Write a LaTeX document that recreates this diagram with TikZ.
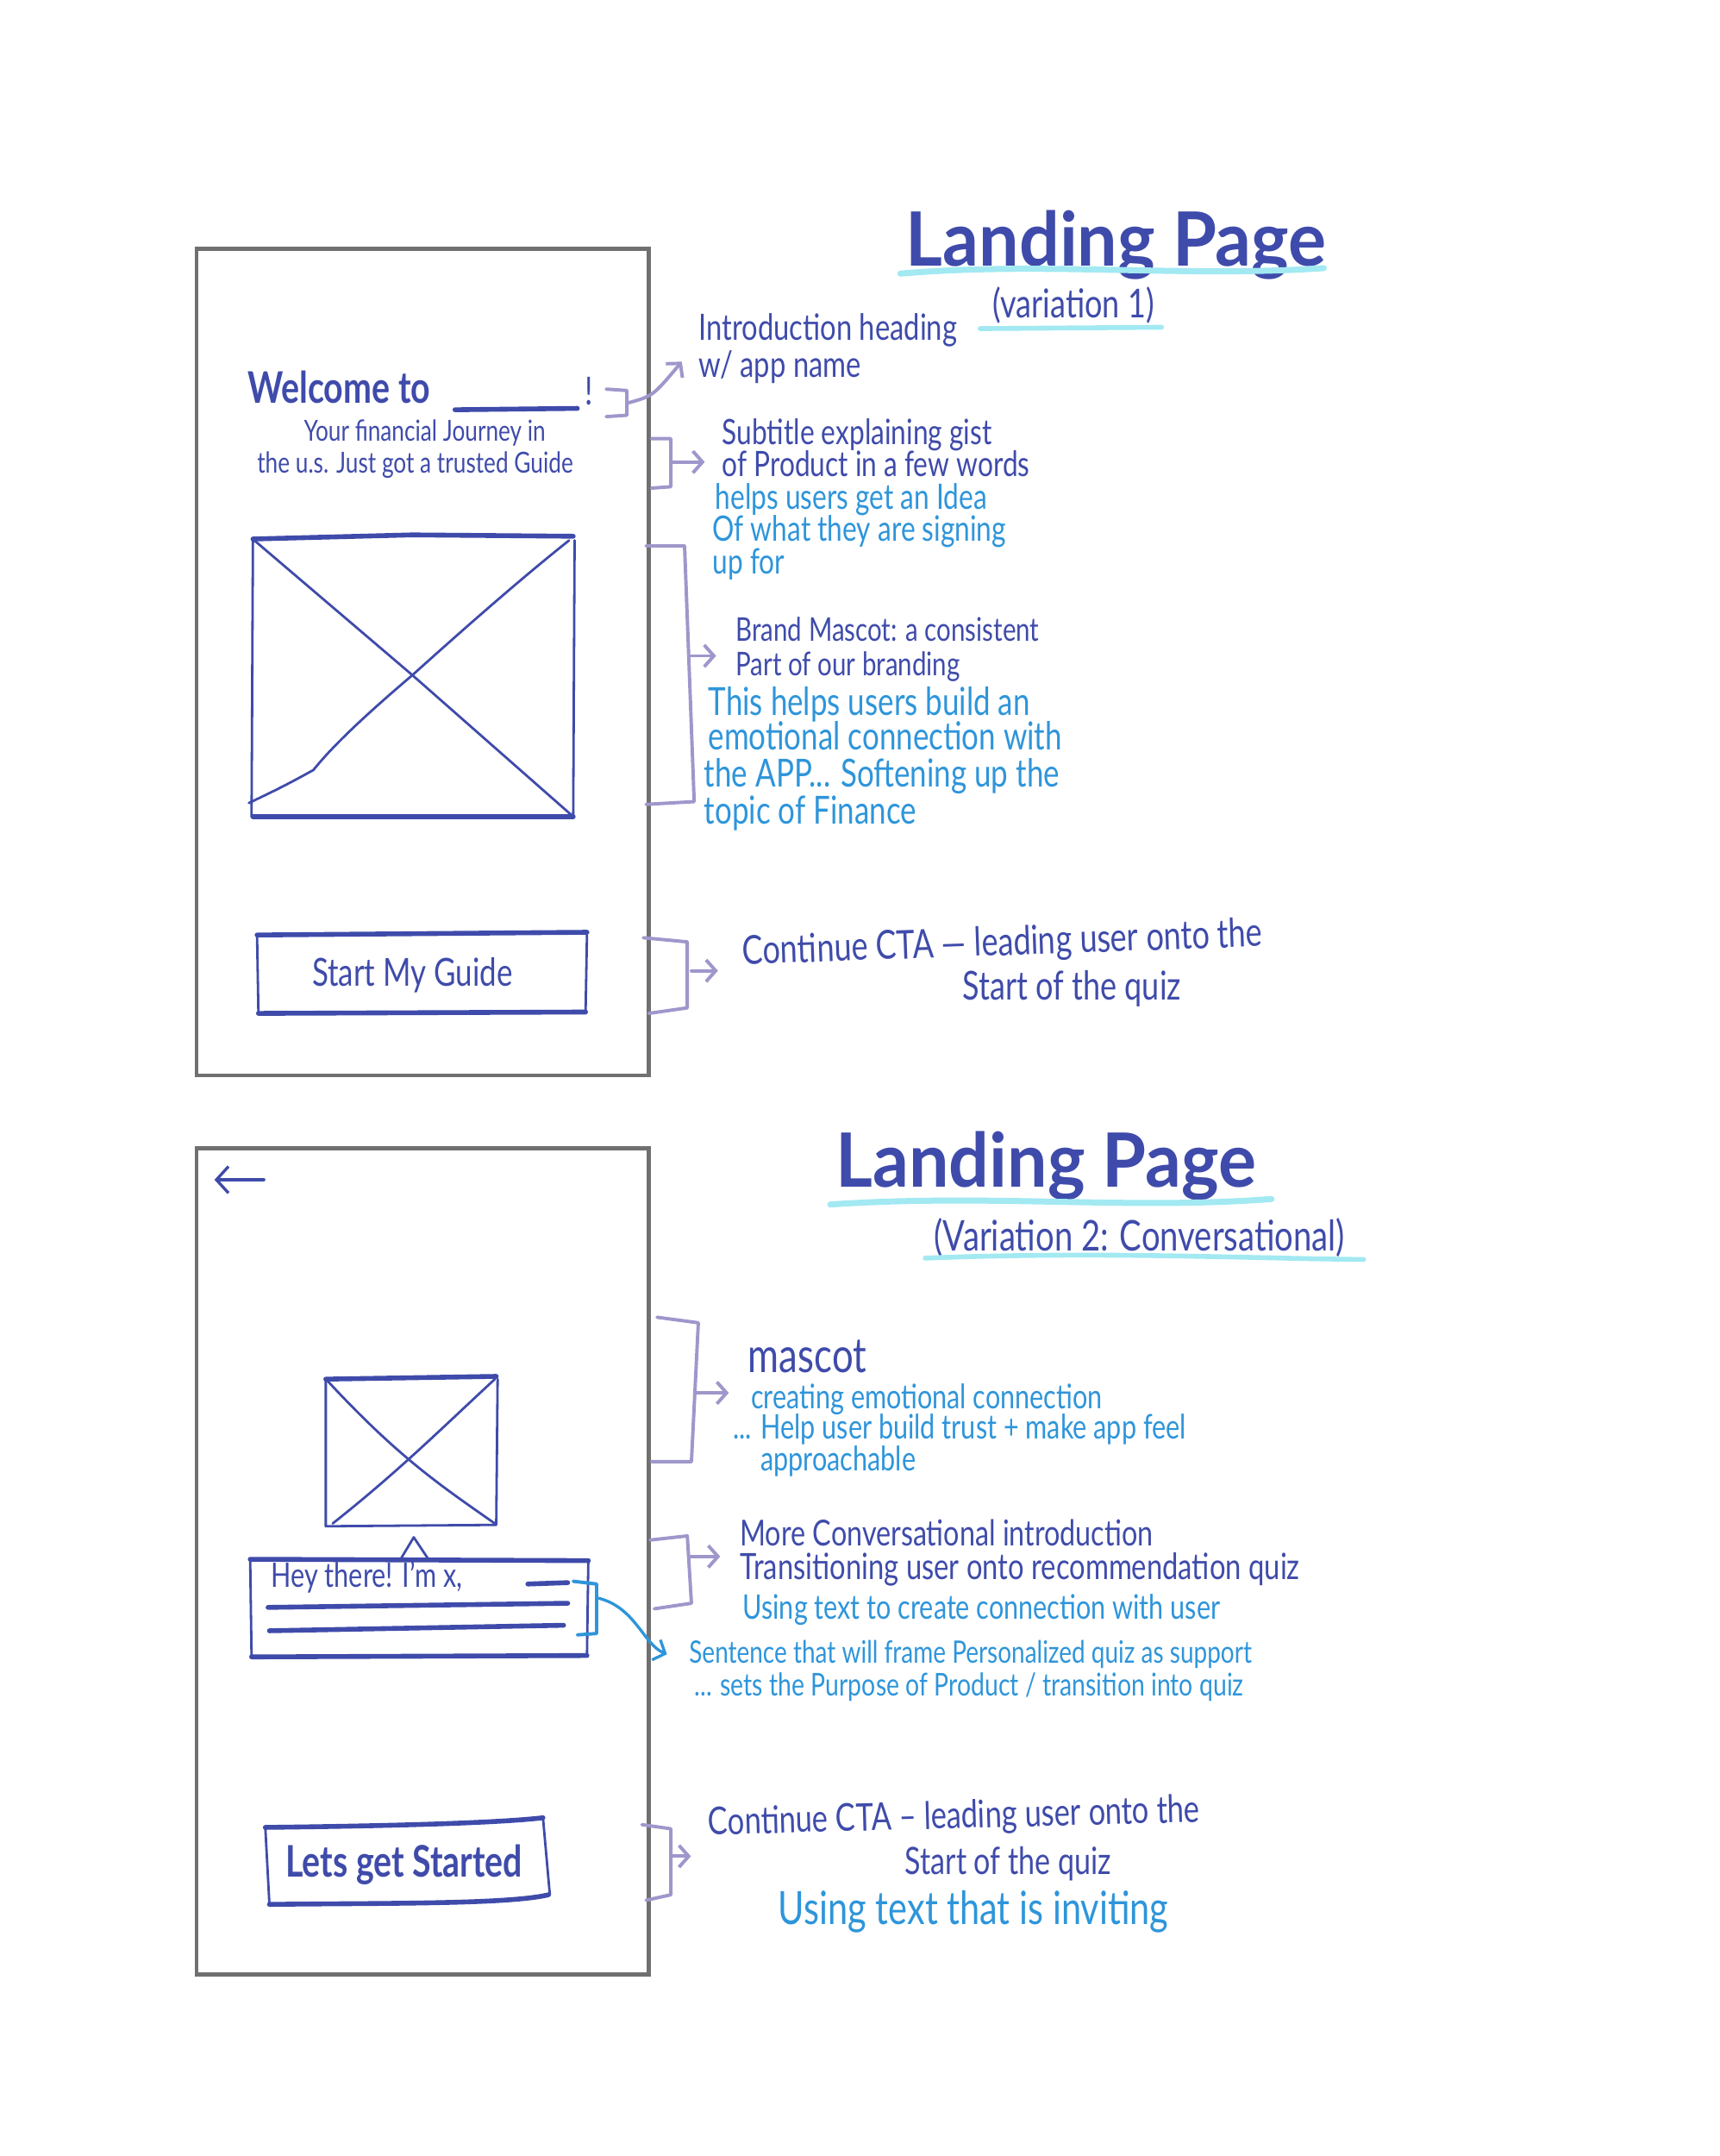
\documentclass[tikz,border=0pt]{standalone}
\usepackage{fontspec}
\usepackage{tikz}
\usetikzlibrary{positioning,arrows.meta}
\setmainfont{Lato}[FakeStretch=0.78]
\newfontfamily\headfont{Lato}[FakeStretch=0.95]
\definecolor{ink}{HTML}{3F4BAA}
\definecolor{note}{HTML}{2E95DA}
\definecolor{brace}{HTML}{9E97CB}
\definecolor{hilite}{HTML}{A2E9F2}
\definecolor{frame}{HTML}{707070}

\begin{document}
\begin{tikzpicture}[x={(0.02cm,0)}, y={(0,-0.02cm)},
    phone/.style={draw=frame, line width=1.6pt},
    pen/.style={draw=ink, line width=1pt, line cap=round, line join=round},
    thickpen/.style={draw=ink, line width=2pt, line cap=round},
    bracket/.style={draw=brace, line width=1.4pt, line cap=round, line join=round},
    pointer/.style={draw=brace, line width=1.4pt, line cap=round, -{Straight Barb[length=4pt,width=9pt]}},
    swash/.style={draw=hilite, line width=2.5pt, line cap=round},
    label/.style={text=ink, font=\fontsize{15}{17}\selectfont, anchor=mid west, inner sep=0pt},
    remark/.style={text=note, font=\fontsize{15}{17}\selectfont, anchor=mid west, inner sep=0pt},
    heading/.style={text=ink, font=\headfont\bfseries\fontsize{31}{34}\selectfont, inner sep=0pt}]
    \useasboundingbox (0,0) rectangle (1251,1568);

    % ---------- Variation 1 ----------
    \node[heading] (title1) at (812,178) {Landing Page};
    \draw[swash] (655,199) .. controls (760,190) and (860,202) .. (963,195);
    \node[label, anchor=center, font=\fontsize{16.5}{18}\selectfont] (var1) at (781,222) {(variation 1)};
    \draw[swash, line width=2pt] (713,239) -- (845,238);

    % Phone frame
    \draw[phone] (143,181) rectangle (472,782);

    % Heading + subtitle
    \node[label, font=\bfseries\fontsize{18}{20}\selectfont] (welcome) at (180,289) {Welcome to};
    \draw[thickpen] (331,298) -- (420,297);
    \node[label, font=\fontsize{16}{18}\selectfont] (bang) at (425,290) {!};
    \node[label, anchor=center, font=\fontsize{12}{14}\selectfont] (tag1) at (309,315) {Your financial Journey in};
    \node[label, anchor=center, font=\fontsize{12}{14}\selectfont] (tag2) at (302,338) {the u.s. Just got a trusted Guide};

    % Image placeholder
    \draw[thickpen] (184,392) -- (300,389) -- (417,390);
    \draw[thickpen] (184,594) -- (417,594);
    \draw[pen] (184,392) -- (183,594);
    \draw[pen] (418,393) -- (417,594);
    \draw[pen] (185,393) -- (300,491) -- (416,593);
    \draw[pen] (414,393) .. controls (380,420) and (340,455) .. (300,491) .. controls (260,525) and (240,545) .. (228,560) .. controls (210,570) and (200,575) .. (181,584);

    % Button
    \draw[thickpen] (187,680) -- (427,678);
    \draw[thickpen] (188,737) -- (426,736);
    \draw[pen] (187,680) -- (188,737);
    \draw[pen] (427,680) -- (426,736);
    \node[label, anchor=center, font=\fontsize{16}{18}\selectfont] (start1) at (300,709) {Start My Guide};

    % Notes
    \node[label] (intro1) at (508,243) {Introduction heading};
    \node[label] (intro2) at (508,270) {w/ app name};
    \node[label, font=\fontsize{14.5}{16}\selectfont] (gist1) at (525,319) {Subtitle explaining gist};
    \node[label, font=\fontsize{14.5}{16}\selectfont] (gist2) at (525,342) {of Product in a few words};
    \node[remark, font=\fontsize{14.5}{16}\selectfont] (idea1) at (520,366) {helps users get an Idea};
    \node[remark, font=\fontsize{14.5}{16}\selectfont] (idea2) at (518,389) {Of what they are signing};
    \node[remark, font=\fontsize{14.5}{16}\selectfont] (idea3) at (518,413) {up for};
    \node[label, font=\fontsize{13.5}{15}\selectfont] (brand1) at (535,462) {Brand Mascot: a consistent};
    \node[label, font=\fontsize{13.5}{15}\selectfont] (brand2) at (535,487) {Part of our branding};
    \node[remark, font=\fontsize{16}{18}\selectfont] (bond1) at (515,516) {This helps users build an};
    \node[remark, font=\fontsize{16}{18}\selectfont] (bond2) at (515,541) {emotional connection with};
    \node[remark, font=\fontsize{16}{18}\selectfont] (bond3) at (512,568) {the APP... Softening up the};
    \node[remark, font=\fontsize{16}{18}\selectfont] (bond4) at (512,595) {topic of Finance};
    \node[label, rotate=2, font=\fontsize{16.5}{18}\selectfont] (cta1) at (540,697) {Continue CTA --- leading user onto the};
    \node[label, font=\fontsize{16.5}{18}\selectfont] (cta2) at (700,723) {Start of the quiz};

    % Brackets
    \draw[bracket] (441,283) -- (456,284) -- (456,302) -- (441,303);
    \coordinate (b1) at (457,293);
    \draw[pointer] (b1) .. controls (475,288) .. ([shift={(-12,-4)}]intro2.west);
    \draw[bracket] (474,319) -- (488,319) -- (488,354) -- (474,355);
    \coordinate (b2) at (488,336);
    \draw[pointer] (b2) -- ([xshift=-7]gist1.south west |- b2);
    \draw[bracket] (470,397) -- (498,397) -- (505,583) -- (470,585);
    \coordinate (b3) at (502,477);
    \draw[pointer] (b3) -- ([xshift=-8]brand1.south west |- b3);
    \draw[bracket] (468,682) -- (500,685) -- (500,733) -- (472,737);
    \coordinate (b4) at (503,706);
    \draw[pointer] (b4) -- ([xshift=-10]cta1.west |- b4);

    % ---------- Variation 2 ----------
    \node[heading] (title2) at (761,848) {Landing Page};
    \draw[swash] (604,876) .. controls (720,868) and (820,880) .. (925,872);
    \node[label, anchor=center, font=\fontsize{17.5}{19}\selectfont] (var2) at (829,900) {(Variation 2: Conversational)};
    \draw[swash, line width=2pt] (673,915) .. controls (800,910) and (900,915) .. (992,916);

    % Phone frame
    \draw[phone] (143,835) rectangle (472,1436);
    \draw[draw=ink, line width=1.2pt, line cap=round, -{Straight Barb[length=5pt,width=11pt]}] (192,858) -- (156,858);

    % Mascot placeholder
    \draw[thickpen] (237,1003) -- (361,1001);
    \draw[pen] (237,1003) -- (237,1110) -- (361,1109) -- (362,1003);
    \draw[pen] (238,1004) .. controls (290,1060) and (320,1080) .. (360,1108);
    \draw[pen] (360,1003) .. controls (320,1040) and (290,1070) .. (242,1108);

    % Speech bubble
    \draw[pen] (292,1133) -- (301,1118) -- (311,1133);
    \draw[thickpen] (182,1134) -- (428,1135);
    \draw[thickpen] (183,1205) -- (427,1204);
    \draw[pen] (182,1134) -- (183,1205);
    \draw[pen] (428,1135) -- (427,1204);
    \node[label, font=\fontsize{14}{16}\selectfont] (hey) at (197,1150) {Hey there! I'm x,};
    \draw[thickpen] (384,1152) -- (413,1151);
    \draw[thickpen] (195,1169) -- (413,1166);
    \draw[thickpen] (196,1186) -- (410,1182);
    \draw[draw=note, line width=1.4pt, line cap=round, line join=round] (417,1150) -- (434,1152) -- (434,1188) -- (420,1189);
    \coordinate (b0) at (434,1162);

    % Button
    \draw[thickpen] (193,1329) .. controls (280,1328) and (360,1326) .. (395,1322);
    \draw[thickpen] (196,1385) .. controls (280,1384) and (370,1385) .. (399,1378);
    \draw[pen] (193,1329) -- (196,1385);
    \draw[pen] (395,1322) -- (400,1378);
    \node[label, anchor=center, font=\bfseries\fontsize{18}{20}\selectfont] (start2) at (294,1356) {Lets get Started};

    % Notes
    \node[label, font=\fontsize{20}{22}\selectfont] (mascot) at (544,994) {mascot};
    \node[remark, font=\fontsize{14}{15}\selectfont] (emo1) at (546,1020) {creating emotional connection};
    \node[remark, font=\fontsize{14}{15}\selectfont] (emo2) at (533,1042) {... Help user build trust + make app feel};
    \node[remark, font=\fontsize{14}{15}\selectfont] (emo3) at (553,1065) {approachable};
    \node[label, font=\fontsize{14.8}{16}\selectfont] (conv1) at (538,1120) {More Conversational introduction};
    \node[label, font=\fontsize{15}{16}\selectfont] (conv2) at (538,1144) {Transitioning user onto recommendation quiz};
    \node[remark, font=\fontsize{14}{15}\selectfont] (conv3) at (540,1173) {Using text to create connection with user};
    \node[remark, font=\fontsize{12.8}{14}\selectfont] (frame1) at (501,1205) {Sentence that will frame Personalized quiz as support};
    \node[remark, font=\fontsize{13}{14}\selectfont] (frame2) at (505,1229) {... sets the Purpose of Product / transition into quiz};
    \node[label, rotate=1.5, font=\fontsize{15.8}{17}\selectfont] (cta3) at (515,1330) {Continue CTA -- leading user onto the};
    \node[label, font=\fontsize{15.6}{17}\selectfont] (cta4) at (658,1359) {Start of the quiz};
    \node[remark, font=\fontsize{19}{21}\selectfont] (invite) at (566,1395) {Using text that is inviting};

    % Brackets
    \draw[draw=note, line width=1.2pt, line cap=round, -{Straight Barb[length=4pt,width=9pt]}] (b0) .. controls (462,1168) and (468,1196) .. ([xshift=-9]frame1.west);
    \draw[bracket] (478,958) -- (508,962) -- (503,1063) -- (474,1063);
    \coordinate (b5) at (506,1013);
    \draw[pointer] (b5) -- ([xshift=-9]emo1.west |- b5);
    \draw[bracket] (473,1120) -- (500,1117) -- (503,1166) -- (476,1170);
    \coordinate (b6) at (502,1132);
    \draw[pointer] (b6) -- ([xshift=-8]conv1.west |- b6);
    \draw[bracket] (467,1327) -- (488,1330) -- (488,1378) -- (470,1382);
    \coordinate (b7) at (488,1350);
    \draw[pointer] (b7) -- ([xshift=-7]cta3.west |- b7);
\end{tikzpicture}
\end{document}
